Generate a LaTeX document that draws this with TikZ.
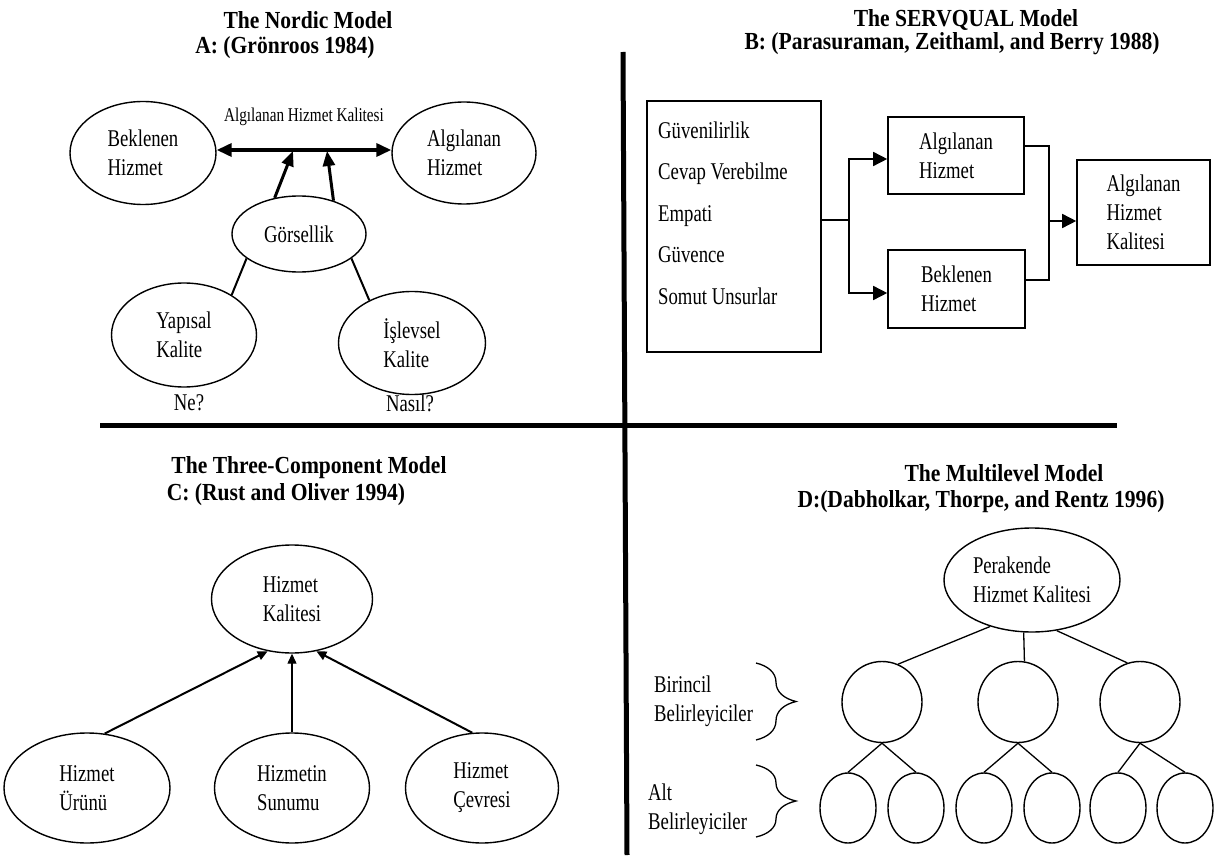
\documentclass[tikz,border=0pt]{standalone}
\usepackage{fontspec}
\setmainfont{Liberation Serif}
\newfontfamily\condserif[FakeStretch=0.78]{Liberation Serif}
\newfontfamily\headserif[FakeStretch=0.88]{Liberation Serif}
\usetikzlibrary{shapes.geometric,arrows.meta,decorations.pathreplacing}
\newcommand\txtfont{\condserif\fontsize{24}{29}\selectfont}
\newcommand\listfont{\condserif\fontsize{24}{41.5}\selectfont}
\newcommand\lblfont{\condserif\fontsize{19.5}{22}\selectfont}
\newcommand\ttlfont{\headserif\bfseries\fontsize{24.5}{28}\selectfont}
\begin{document}
\begin{tikzpicture}[x=1pt,y=-1pt,
  oval/.style={draw, ellipse, line width=1.4pt, inner sep=0pt, align=left, font=\txtfont},
  frame/.style={draw, rectangle, line width=1.6pt, inner sep=0pt, align=left, font=\txtfont},
  txt/.style={font=\txtfont, align=left, inner sep=0pt},
  ttl/.style={font=\ttlfont, inner sep=0pt},
  divider/.style={line width=5pt},
  link/.style={line width=2pt},
  thinlink/.style={line width=1.3pt},
  both/.style={line width=3.5pt, {Triangle[length=15pt,width=13pt]}-{Triangle[length=15pt,width=13pt]}},
  uptip/.style={line width=3pt, -{Triangle[length=15pt,width=12pt]}},
  boxtip/.style={line width=1.5pt, -{Triangle[length=14pt,width=14pt]}},
  smalltip/.style={-{Triangle[length=10pt,width=9pt]}},
  bracket/.style={line width=1.3pt, decorate, decoration={brace, amplitude=40pt}}
]
\useasboundingbox[fill=white] (0,0) rectangle (1227,861);

% quadrant dividers
\coordinate (vtop) at (623,52);
\coordinate (vbot) at (627,855);
\coordinate (hleft) at (100,425);
\coordinate (hright) at (1117,425);
\draw[divider] (vtop) -- (vbot);
\draw[divider] (hleft) -- (hright);

% ---------------- A: Nordic model ----------------
\node[ttl] (ta) at (308,20) {The Nordic Model};
\node[ttl] (sa) at (285,48) {A: (Grönroos 1984)};

\node[oval, minimum width=146pt, minimum height=103pt] (bek) at (143,153) {Beklenen\\Hizmet};
\node[oval, minimum width=144pt, minimum height=102pt] (alg) at (464,153) {Algılanan\\Hizmet};
\node[oval, minimum width=134pt, minimum height=76pt] (gor) at (299,234) {Görsellik};
\node[oval, minimum width=145pt, minimum height=104pt] (yap) at (184,335) {Yapısal\\Kalite};
\node[oval, minimum width=147pt, minimum height=103pt] (isl) at (412,343) {İşlevsel\\Kalite};

\node[font=\lblfont, inner sep=0pt] (ahk) at (304,117) {Algılanan Hizmet Kalitesi};
\draw[both] ([yshift=3pt]bek.east) -- ([yshift=3pt]alg.west);

\coordinate (t1) at (293,151);
\coordinate (t2) at (327,151);
\draw[uptip] (gor.124) -- (t1);
\draw[uptip] (gor.44) -- (t2);

\draw[link] (gor.205) -- (yap.40);
\draw[link] (gor.-25) -- (isl.135);

\node[txt] (ne) at (189,403) {Ne?};
\node[txt] (nasil) at (410,403) {Nasıl?};

% ---------------- B: SERVQUAL model ----------------
\node[ttl] (tb) at (966,20) {The SERVQUAL Model};
\node[ttl] (sb) at (952,44) {B: (Parasuraman, Zeithaml, and Berry 1988)};

\node[frame, minimum width=174pt, minimum height=251pt] (lbox) at (734,226.5) {};
\node[txt, anchor=west, font=\listfont] (dims) at (658,213)
  {Güvenilirlik\\Cevap Verebilme\\Empati\\Güvence\\Somut Unsurlar};
\node[frame, minimum width=136pt, minimum height=77pt] (abox) at (956,155.5) {Algılanan\\Hizmet};
\node[frame, minimum width=137pt, minimum height=78pt] (bbox) at (956.5,289) {Beklenen\\Hizmet};
\node[frame, minimum width=133pt, minimum height=105pt] (fbox) at (1143.5,212.5) {Algılanan\\Hizmet\\Kalitesi};

\draw[thinlink] ([yshift=6.5pt]lbox.east) -- ++(27,0) coordinate (j1);
\draw[boxtip] (j1) |- ([yshift=-3.5pt]abox.west);
\draw[boxtip] (j1) |- ([yshift=-4pt]bbox.west);

\coordinate (j2) at (1049,221);
\draw[thinlink] ([yshift=9.5pt]abox.east) -| (j2);
\draw[thinlink] ([yshift=9pt]bbox.east) -| (j2);
\draw[boxtip] (j2) -- (j2 -| fbox.west);

% ---------------- C: Three-component model ----------------
\node[ttl] (tc) at (309,468) {The Three-Component Model};
\node[ttl] (sc) at (286,495) {C: (Rust and Oliver 1994)};

\node[oval, minimum width=161pt, minimum height=108pt] (hk) at (292,599) {Hizmet\\Kalitesi};
\node[oval, minimum width=166pt, minimum height=110pt] (uru) at (87,788) {Hizmet\\Ürünü};
\node[oval, minimum width=155pt, minimum height=110pt] (sun) at (292,788) {Hizmetin\\Sunumu};
\node[oval, minimum width=153pt, minimum height=110pt] (cev) at (482,788) {Hizmet\\Çevresi};

\draw[link, smalltip] (uru.72) -- (hk.245);
\draw[thinlink, smalltip] (sun.north) -- (hk.south);
\draw[link, smalltip] (cev.100) -- (hk.295);

% ---------------- D: Multilevel model ----------------
\node[ttl] (td) at (1004,473) {The Multilevel Model};
\node[ttl] (sd) at (981,502) {D:(Dabholkar, Thorpe, and Rentz 1996)};

\node[oval, minimum width=176pt, minimum height=104pt] (per) at (1032,580) {Perakende\\Hizmet Kalitesi};

\node[oval, minimum width=80pt, minimum height=81pt] (p1) at (882,702) {};
\node[oval, minimum width=80pt, minimum height=81pt] (p2) at (1018,702) {};
\node[oval, minimum width=80pt, minimum height=81pt] (p3) at (1140,702) {};

\node[oval, minimum width=56pt, minimum height=70pt] (l1) at (848,808) {};
\node[oval, minimum width=56pt, minimum height=70pt] (l2) at (916,808) {};
\node[oval, minimum width=56pt, minimum height=70pt] (l3) at (984,808) {};
\node[oval, minimum width=56pt, minimum height=70pt] (l4) at (1052,808) {};
\node[oval, minimum width=56pt, minimum height=70pt] (l5) at (1118,808) {};
\node[oval, minimum width=56pt, minimum height=70pt] (l6) at (1185,808) {};

\draw[thinlink] (per.228) -- (p1.67);
\draw[thinlink] (per.261) -- (p2.81);
\draw[thinlink] (per.296) -- (p3.108);

\draw[thinlink] (p1.south) -- (l1.north);
\draw[thinlink] (p1.south) -- (l2.north);
\draw[thinlink] (p2.south) -- (l3.north);
\draw[thinlink] (p2.south) -- (l4.north);
\draw[thinlink] (p3.south) -- (l5.north);
\draw[thinlink] (p3.south) -- (l6.north);

\draw[bracket] (756,663) -- (756,740);
\draw[bracket] (756,765) -- (756,837);

\node[txt, anchor=west] (bir) at (654,701) {Birincil\\Belirleyiciler};
\node[txt, anchor=west] (alt) at (648,809) {Alt\\Belirleyiciler};
\end{tikzpicture}
\end{document}
